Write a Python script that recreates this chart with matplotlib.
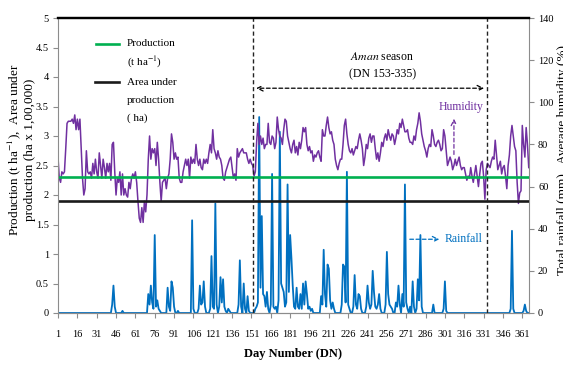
import matplotlib.pyplot as plt
from matplotlib.lines import Line2D
import numpy as np

plt.rcParams['font.family'] = ['Liberation Serif', 'DejaVu Serif']
plt.rcParams['mathtext.fontset'] = 'stix'

# daily average humidity (%), DN 1-366
humidity = [74, 64, 62, 67, 66, 67, 78, 90, 91, 91,
            91, 92, 90, 94, 87, 92, 87, 92, 78, 64,
            56, 59, 77, 67, 66, 67, 64, 71, 66, 73,
            67, 64, 76, 70, 64, 73, 69, 64, 71, 67,
            71, 63, 80, 81, 67, 56, 64, 62, 67, 56,
            66, 56, 59, 56, 55, 62, 59, 64, 66, 64,
            67, 62, 53, 45, 43, 50, 43, 53, 48, 56,
            73, 84, 73, 78, 76, 78, 70, 81, 73, 62,
            53, 62, 63, 64, 59, 64, 66, 73, 85, 81,
            73, 76, 73, 74, 64, 62, 62, 67, 70, 73,
            70, 73, 64, 74, 71, 73, 71, 80, 73, 70,
            73, 69, 68, 73, 71, 73, 71, 76, 80, 76,
            87, 78, 76, 73, 77, 74, 73, 70, 64, 63,
            67, 69, 71, 73, 74, 69, 64, 66, 63, 78,
            74, 76, 77, 78, 76, 76, 76, 73, 71, 73,
            71, 70, 65, 67, 81, 90, 80, 84, 80, 83,
            78, 80, 80, 90, 81, 80, 84, 83, 78, 81,
            93, 87, 84, 83, 80, 87, 92, 91, 84, 81,
            78, 76, 80, 82, 76, 79, 75, 81, 78, 82,
            88, 86, 88, 80, 77, 79, 76, 77, 72, 75,
            74, 76, 77, 74, 72, 87, 84, 84, 89, 93,
            88, 85, 86, 82, 80, 73, 70, 68, 71, 73,
            73, 80, 89, 92, 85, 80, 77, 76, 78, 75,
            77, 79, 78, 82, 85, 82, 78, 70, 74, 80,
            78, 83, 85, 81, 84, 84, 78, 73, 76, 72,
            76, 81, 79, 83, 85, 82, 87, 84, 82, 85,
            84, 80, 83, 87, 85, 90, 88, 92, 89, 86,
            86, 87, 83, 81, 81, 80, 84, 82, 87, 90,
            95, 91, 85, 82, 79, 77, 74, 78, 80, 79,
            87, 84, 80, 79, 81, 82, 80, 77, 78, 87,
            84, 77, 70, 72, 74, 72, 68, 70, 73, 70,
            72, 74, 70, 68, 69, 69, 66, 63, 65, 64,
            69, 65, 62, 66, 70, 65, 60, 66, 71, 72,
            65, 54, 68, 71, 70, 69, 72, 74, 73, 82,
            75, 68, 70, 72, 66, 69, 70, 65, 59, 70,
            75, 84, 89, 84, 79, 77, 62, 52, 57, 58,
            89, 80, 74, 88, 80, 69]

# days with rain and total rainfall (mm); every other day is dry
rain_day = [43, 44, 45, 51,
            71, 72, 73, 74, 75, 76, 77, 78, 79, 80,
            86, 87, 88, 89, 90, 91, 94,
            105, 106, 110, 111, 112, 113, 114, 115,
            119, 120, 121, 122, 123, 124, 126, 127, 128, 129, 130, 131, 133, 134,
            141, 142, 143, 145, 146, 148, 149,
            154, 155, 156, 157, 158, 159, 160, 161, 162, 163, 164,
            166, 167, 168, 169, 170, 172, 173, 174, 175, 176, 177, 178, 179, 180,
            181, 182, 183, 184, 185, 186, 187, 188, 189, 190,
            191, 192, 193, 194, 195, 196, 197, 198,
            205, 206, 207, 208, 209, 210, 211, 212, 213, 214, 215,
            221, 222, 223, 224, 225, 226, 227,
            230, 231, 232, 233, 234, 235, 236,
            240, 241, 242, 243, 244, 245, 246, 247, 248, 249, 250, 251,
            255, 256, 257, 258, 259, 260,
            263, 264, 265, 266, 268, 269, 270, 271, 272, 274, 276, 277, 279, 280,
            281, 282, 283, 292, 300, 301, 302,
            352, 353, 354, 362, 363, 364]
rain_mm = [4, 13, 3, 1,
           9, 4, 13, 5, 2, 37, 3, 6, 2, 1,
           12, 3, 1, 15, 12, 3, 1,
           44, 2, 2, 13, 4, 5, 15, 3,
           2, 27, 3, 2, 52, 4, 3, 17, 5, 16, 3, 1, 2, 1,
           4, 25, 3, 14, 2, 8, 1,
           2, 3, 5, 93, 12, 46, 9, 8, 3, 10, 2,
           4, 66, 3, 2, 3, 6, 86, 14, 12, 10, 3, 5, 61, 10,
           37, 26, 13, 3, 2, 12, 3, 2, 9, 2,
           14, 4, 15, 9, 2, 3, 1, 2,
           8, 4, 30, 9, 3, 23, 21, 6, 2, 5, 2,
           4, 23, 22, 5, 67, 4, 2,
           3, 18, 4, 2, 9, 8, 2,
           3, 13, 5, 2, 4, 20, 10, 3, 2, 4, 9, 2,
           4, 29, 9, 4, 3, 2,
           5, 3, 13, 4, 9, 3, 61, 5, 2, 3, 15, 3, 2, 16,
           6, 37, 3, 4, 2, 15, 1,
           2, 39, 2, 1, 4, 1]

production = 2.3    # t ha-1
area = 1.9          # ha x 1,00,000
season_edges = [152.5, 333.5]

days = np.arange(1, len(humidity) + 1)
rainfall = np.zeros(len(days))
rainfall[np.array(rain_day) - 1] = rain_mm

fig = plt.figure(figsize=(5.63, 3.66), dpi=100)
ax = fig.add_axes([58 / 563, 1 - 313 / 366, 471 / 563, 295 / 366])
ax2 = ax.twinx()

ax2.plot(days, rainfall, color='#0070C0', lw=1.3)
ax2.plot(days, humidity, color='#7030A0', lw=1.1)
ax2.set_ylim(0, 140)
ax2.set_yticks(np.arange(0, 141, 20))

# production lines on top of the weather series
ax.set_zorder(ax2.get_zorder() + 1)
ax.patch.set_visible(False)
ax.axhline(production, color='#00B050', lw=1.9)
ax.axhline(area, color='#1a1a1a', lw=1.9)
for xe in season_edges:
    ax.axvline(xe, color='#222222', lw=1.0, dashes=(3, 2))

ax.set_xlim(1, 366.2)
ax.set_ylim(0, 5)
ax.set_xticks(np.arange(1, 367, 15))
ax.set_yticks(np.arange(0, 5.01, 0.5))
ax.set_yticklabels(['0', '0.5', '1', '1.5', '2', '2.5', '3', '3.5', '4', '4.5', '5'])

for a in (ax, ax2):
    for s in ('left', 'right', 'bottom'):
        a.spines[s].set_color('#8c8c8c')
        a.spines[s].set_linewidth(0.8)
    a.spines['top'].set_color('black')
    a.spines['top'].set_linewidth(1.6)
ax.spines['right'].set_visible(False)
ax2.spines['left'].set_visible(False)
ax.tick_params(axis='x', labelsize=7.5, length=3.5, color='#8c8c8c', pad=9)
ax.tick_params(axis='y', labelsize=7.5, length=3.5, color='#8c8c8c', pad=3)
ax2.tick_params(axis='y', labelsize=7.5, length=3.5, color='#8c8c8c', pad=3)

ax.set_xlabel('Day Number (DN)', fontsize=9, fontweight='bold', labelpad=6)
fig.text(14 / 563, 1 - 150 / 366, 'Production (t ha$^{-1}$),  Area under',
         rotation=90, ha='center', va='center', fontsize=9.5)
fig.text(30 / 563, 1 - 150 / 366, 'production (ha x 1,00,000)',
         rotation=90, ha='center', va='center', fontsize=9.5)
fig.text(563 / 563, 1 - 160 / 366, 'Total rainfall (mm),  Average humidity (%)',
         rotation=90, ha='center', va='center', fontsize=9.5)

# legend drawn by hand, lines level with first text row
ax.add_line(Line2D([0.081, 0.130], [0.912, 0.912], transform=ax.transAxes,
                   color='#00B050', lw=1.9))
ax.add_line(Line2D([0.079, 0.130], [0.783, 0.783], transform=ax.transAxes,
                   color='#1a1a1a', lw=1.9))
leg_txt = [('Production', 0.912), ('(t ha$^{-1}$)', 0.850), ('Area under', 0.783),
           ('production', 0.722), ('( ha)', 0.661)]
for txt, yy in leg_txt:
    ax.text(0.146, yy, txt, transform=ax.transAxes, fontsize=8, va='center')

# season annotation
ax.text(252, 4.34, r'$\it{Aman}$ season', ha='center', va='center', fontsize=8.5)
ax.text(253, 4.05, '(DN 153-335)', ha='center', va='center', fontsize=8.5)
ax.annotate('', xy=(season_edges[0], 3.81), xytext=(season_edges[1], 3.81),
            arrowprops=dict(arrowstyle='<->', color='black', lw=0.9, ls=(0, (3, 2))))

ax.text(313.5, 3.49, 'Humidity', color='#7030A0', ha='center', va='center', fontsize=8.5)
ax.annotate('', xy=(308, 3.34), xytext=(308, 2.64),
            arrowprops=dict(arrowstyle='->', color='#7030A0', lw=0.9, ls=(0, (3, 2))))
ax.text(301, 1.25, 'Rainfall', color='#0070C0', ha='left', va='center', fontsize=8.5)
ax.annotate('', xy=(298.8, 1.25), xytext=(271.6, 1.25),
            arrowprops=dict(arrowstyle='->', color='#0070C0', lw=0.9, ls=(0, (3, 2))))

fig.savefig('out.png', dpi=100)
